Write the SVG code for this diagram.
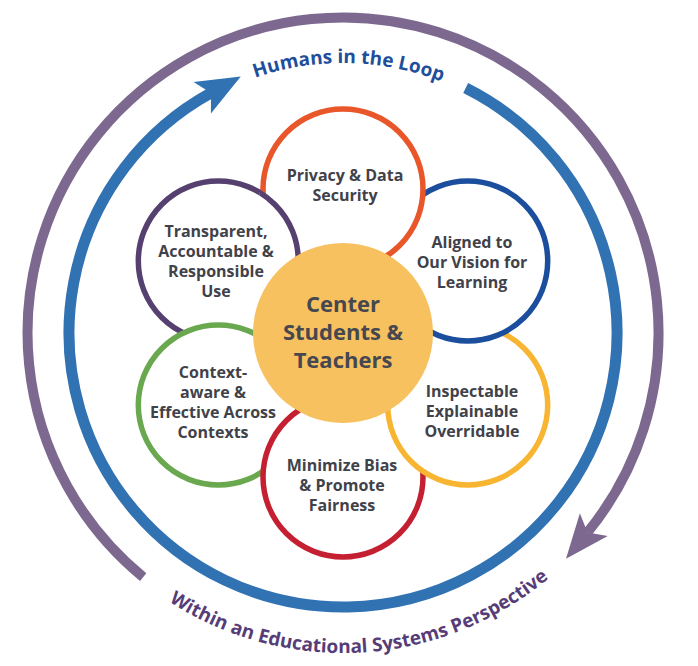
<svg xmlns="http://www.w3.org/2000/svg" xmlns:xlink="http://www.w3.org/1999/xlink" width="698" height="666" viewBox="0 0 698 666">
  <style>
    .petal { fill: #ffffff; stroke-width: 5.5; }
    .ptxt { font-family: "Open Sans", "Liberation Sans", sans-serif; font-weight: 700; font-size: 16px; fill: #414249; text-anchor: middle; }
    .ctxt { font-family: "Open Sans", "Liberation Sans", sans-serif; font-weight: 700; font-size: 22px; fill: #46474f; text-anchor: middle; }
    .arc { fill: none; }
    .ring-blue { stroke: #3172b3; stroke-width: 11; fill: none; }
    .ring-purple { stroke: #7d6990; stroke-width: 10; fill: none; }
    .rtxt { font-family: "Open Sans", "Liberation Sans", sans-serif; font-weight: 700; font-size: 19px; }
  </style>
  <defs>
    <marker id="ah-blue" markerUnits="userSpaceOnUse" markerWidth="60" markerHeight="60" refX="0" refY="0" orient="auto" overflow="visible">
      <path d="M34 0 L-10 -18 L0 0 L-10 18 Z" fill="#3172b3"/>
    </marker>
    <marker id="ah-purple" markerUnits="userSpaceOnUse" markerWidth="60" markerHeight="60" refX="0" refY="0" orient="auto" overflow="visible">
      <path d="M34 0 L-10 -18 L0 0 L-10 18 Z" fill="#7d6990"/>
    </marker>
    <path id="p-humans" class="arc" d="M 112.1 193.1 A 270 270 0 0 1 579.6 202.9"/>
    <path id="p-within" class="arc" d="M 27.9 388.6 A 320 320 0 0 0 662.6 349.7"/>
    <clipPath id="clip-orange"><circle cx="343" cy="189" r="84"/></clipPath>
  </defs>

  <rect width="698" height="666" fill="#ffffff"/>

  <g id="connectors">
    <path class="ring-purple" d="M 143.2 577.1 A 315.5 315.5 0 1 1 587.5 532.4" marker-end="url(#ah-purple)"/>
    <path class="ring-blue" d="M 465.7 88.0 A 274 274 0 1 1 211.0 92.9" marker-end="url(#ah-blue)"/>
    <text class="rtxt" fill="#1f4e9b"><textPath href="#p-humans" startOffset="50%" text-anchor="middle">Humans in the Loop</textPath></text>
    <text class="rtxt" fill="#573d78" font-size="19.4"><textPath href="#p-within" startOffset="50%" text-anchor="middle">Within an Educational Systems Perspective</textPath></text>
  </g>

  <g id="node-transparent">
    <circle class="petal" cx="218.3" cy="261" r="80" stroke="#55406f"/>
    <text class="ptxt" x="216" y="237">Transparent,</text>
    <text class="ptxt" x="216" y="257">Accountable &amp;</text>
    <text class="ptxt" x="216" y="277">Responsible</text>
    <text class="ptxt" x="216" y="297">Use</text>
  </g>
  <g id="node-context">
    <circle class="petal" cx="218.3" cy="405" r="80" stroke="#6aa84f"/>
    <text class="ptxt" x="213" y="378">Context-</text>
    <text class="ptxt" x="213" y="398">aware &amp;</text>
    <text class="ptxt" x="213" y="418">Effective Across</text>
    <text class="ptxt" x="213" y="438">Contexts</text>
  </g>
  <g id="node-bias">
    <circle class="petal" cx="343" cy="477" r="80" stroke="#c51f32"/>
    <text class="ptxt" x="342" y="471">Minimize Bias</text>
    <text class="ptxt" x="342" y="491">&amp; Promote</text>
    <text class="ptxt" x="342" y="511">Fairness</text>
  </g>
  <g id="node-inspectable">
    <circle class="petal" cx="467.7" cy="405" r="80" stroke="#f7b532"/>
    <text class="ptxt" x="472" y="397">Inspectable</text>
    <text class="ptxt" x="472" y="417">Explainable</text>
    <text class="ptxt" x="472" y="437">Overridable</text>
  </g>
  <g id="node-aligned">
    <circle class="petal" cx="467.7" cy="261" r="80" stroke="#1b4f9e"/>
    <text class="ptxt" x="472" y="248">Aligned to</text>
    <text class="ptxt" x="472" y="268">Our Vision for</text>
    <text class="ptxt" x="472" y="288">Learning</text>
  </g>
  <g id="node-privacy">
    <circle class="petal" cx="343" cy="189" r="80" stroke="#e8562a"/>
    <text class="ptxt" x="345" y="181">Privacy &amp; Data</text>
    <text class="ptxt" x="345" y="201">Security</text>
  </g>
  <use href="#node-transparent" clip-path="url(#clip-orange)"/>

  <g id="node-center">
    <circle cx="343" cy="333" r="90" fill="#f8c15f"/>
    <text class="ctxt" x="343" y="312">Center</text>
    <text class="ctxt" x="343" y="340">Students &amp;</text>
    <text class="ctxt" x="343" y="368">Teachers</text>
  </g>
</svg>
